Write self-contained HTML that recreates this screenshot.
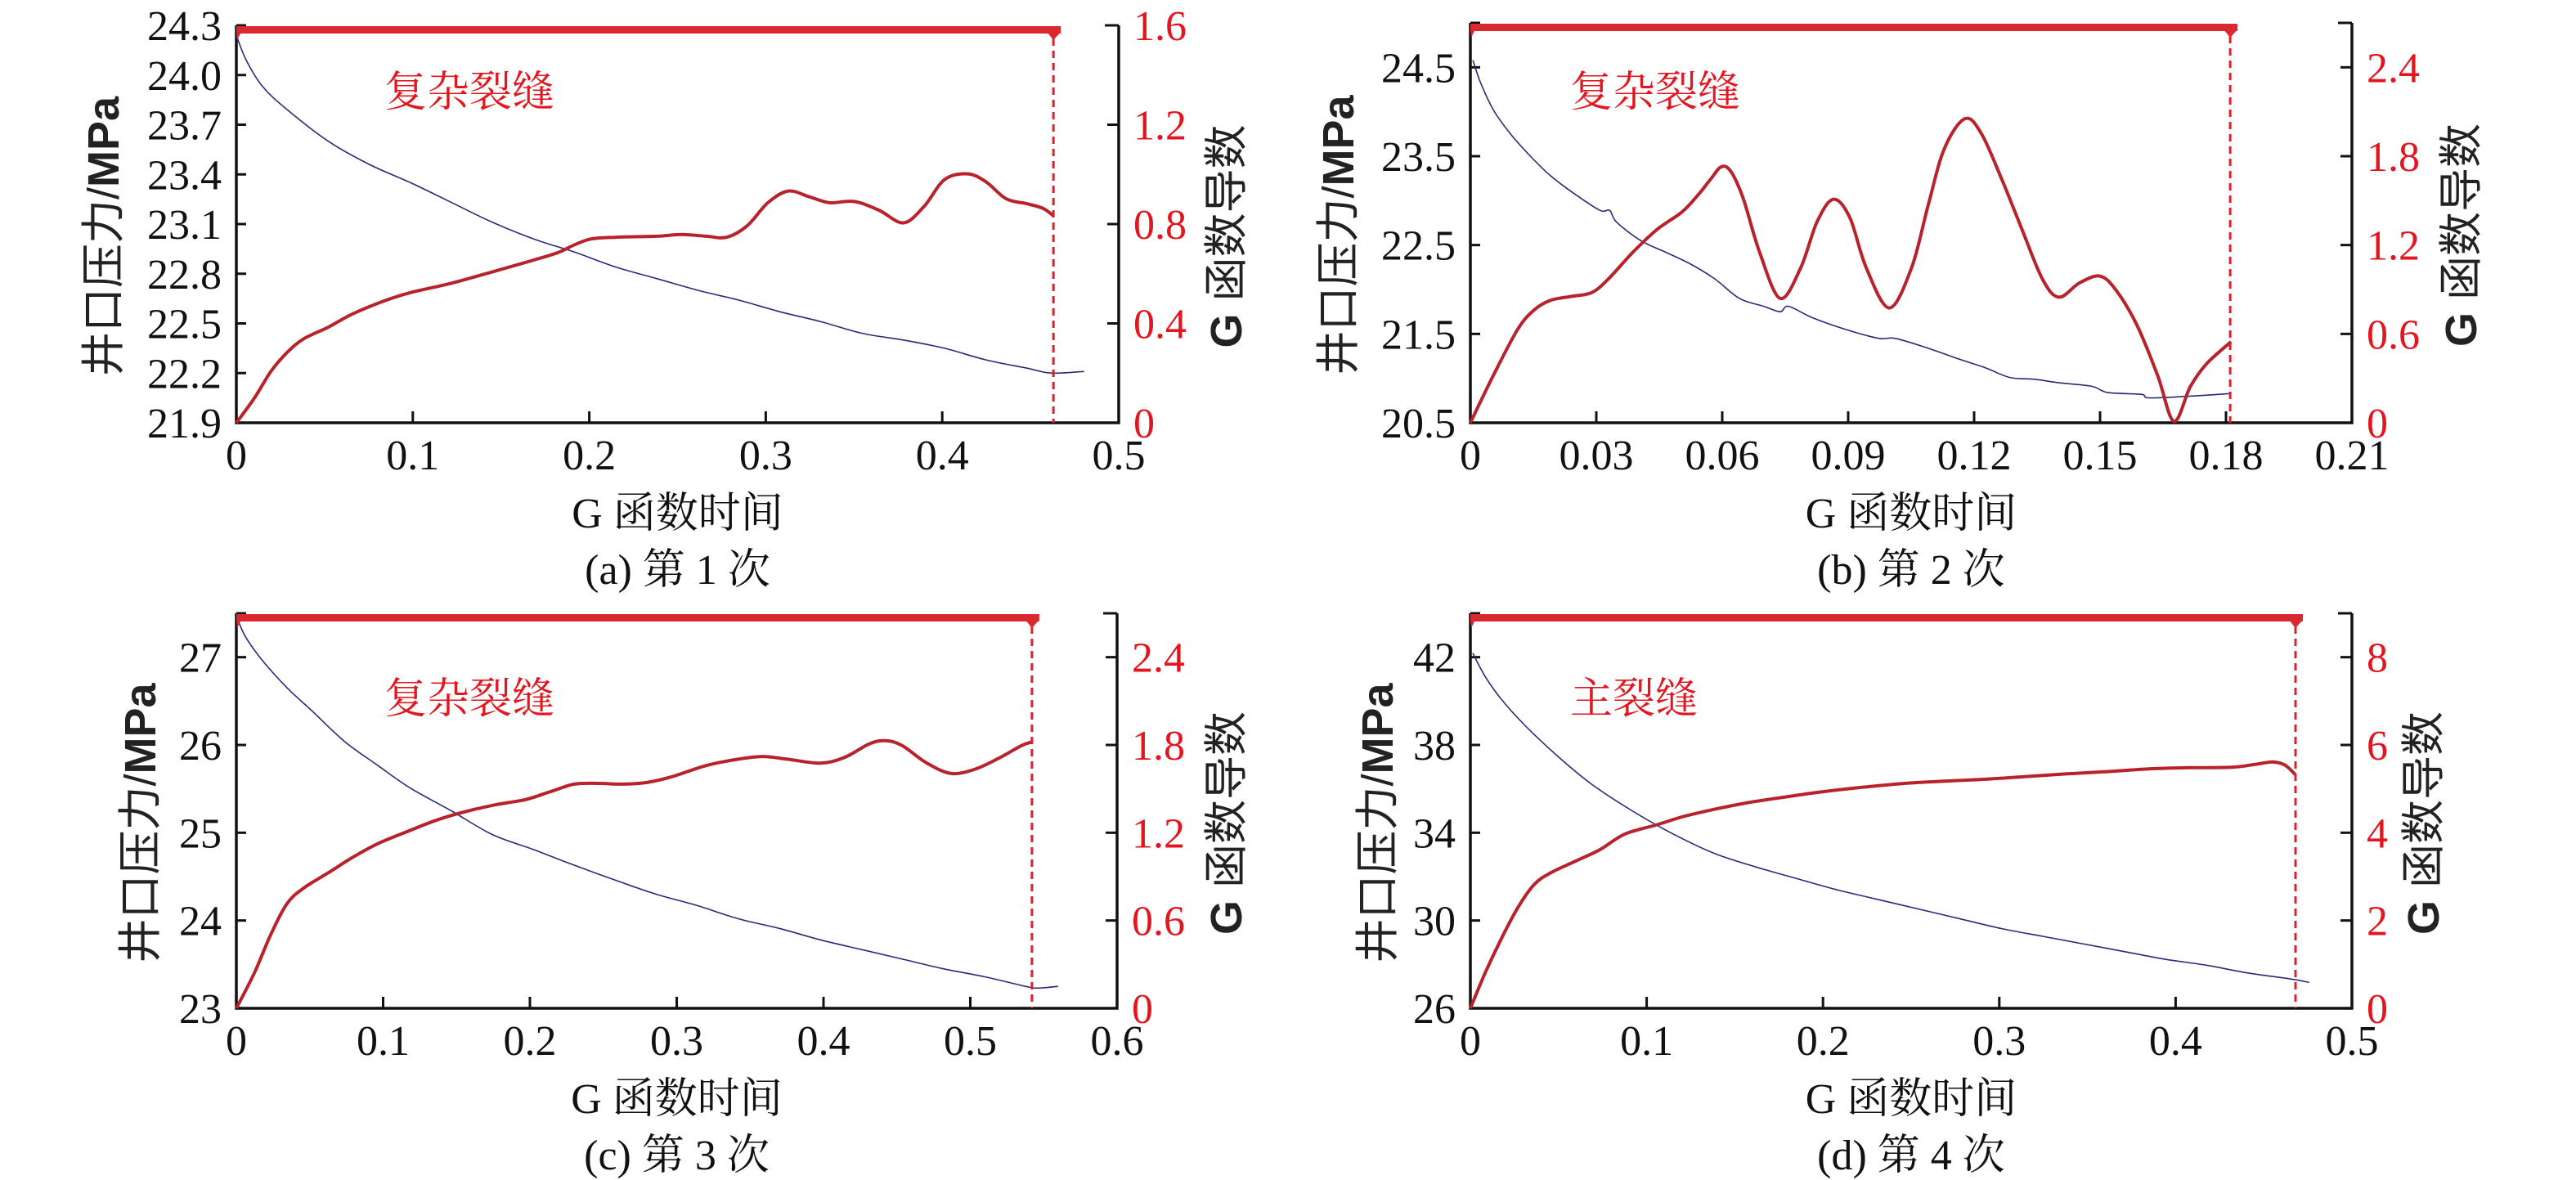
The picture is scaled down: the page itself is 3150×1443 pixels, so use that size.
<!DOCTYPE html>
<html><head><meta charset="utf-8">
<style>
html,body{margin:0;padding:0;background:#fff;}
svg{display:block;}
.tk{font-family:"Liberation Serif","Noto Serif CJK SC",serif;font-size:52px;}
.cj{font-family:"Liberation Serif","Noto Serif CJK SC",serif;font-size:52px;}
</style></head>
<body>
<svg id="fig" width="3150" height="1443" viewBox="0 0 3150 1443" xmlns="http://www.w3.org/2000/svg"></svg>
<script>
// ---- panel (a) data ----
const aPressG = [0,.0056,.0149,.0289,.0521,.0754,.0987,.1220,.1453,.1685,.1918,.2151,.2384,.2616,.2849,.3082,.3315,.3547,.3780,.4013,.4246,.4479,.4618,.4804];
const aPress = [24.24,24.09,23.93,23.79,23.60,23.46,23.35,23.23,23.11,23.01,22.93,22.84,22.77,22.70,22.64,22.57,22.51,22.44,22.40,22.35,22.28,22.23,22.20,22.21];
const aDerG = [0,.0102,.0196,.0289,.0382,.0521,.0661,.0847,.0987,.1220,.1453,.1685,.1825,.1918,.2011,.2151,.2384,.2523,.2663,.2779,.2896,.3012,.3128,.3245,.3361,.3501,.3641,.3780,.3897,.4013,.4143,.4246,.4362,.4479,.4572,.4632];
const aDer = [0,.099,.207,.284,.338,.385,.439,.493,.524,.562,.608,.655,.686,.717,.740,.747,.751,.758,.751,.747,.794,.886,.933,.910,.886,.891,.856,.805,.871,.979,1.002,.971,.902,.882,.863,.832];
const aLeftTicks = [21.9,22.2,22.5,22.8,23.1,23.4,23.7,24.0,24.3];
const aLeftLabels = ["21.9","22.2","22.5","22.8","23.1","23.4","23.7","24.0","24.3"];
const aRightTicks = [0,0.4,0.8,1.2,1.6];
const aRightLabels = ["0","0.4","0.8","1.2","1.6"];
const aXTicks = [0,0.1,0.2,0.3,0.4,0.5];
const aXLabels = ["0","0.1","0.2","0.3","0.4","0.5"];
const aClosure = [0.463];

// ---- panel (b) data ----
const bPressG = [.0006,.0025,.0055,.0094,.0143,.0191,.0250,.0309,.0332,.0348,.0406,.0465,.0523,.0582,.0641,.0699,.0738,.0758,.0816,.0894,.0973,.1012,.1090,.1168,.1226,.1285,.1344,.1402,.1480,.1519,.1598,.1617,.1715,.1812];
const bPress = [24.58,24.32,24.02,23.76,23.50,23.28,23.07,22.89,22.89,22.76,22.55,22.42,22.29,22.12,21.90,21.81,21.75,21.81,21.68,21.55,21.45,21.45,21.34,21.21,21.12,21.01,20.99,20.95,20.91,20.84,20.82,20.78,20.80,20.83];
const bDerG = [0,.0055,.0113,.0152,.0191,.0240,.0289,.0328,.0387,.0445,.0504,.0543,.0572,.0598,.0621,.0650,.0689,.0738,.0787,.0826,.0865,.0904,.0943,.0998,.1051,.1090,.1129,.1178,.1217,.1266,.1314,.1363,.1402,.1451,.1500,.1539,.1588,.1637,.1676,.1715,.1754,.1812];
const bDer = [0,.321,.632,.762,.827,.853,.879,.969,1.151,1.306,1.423,1.540,1.643,1.729,1.695,1.514,1.151,.840,1.047,1.358,1.509,1.384,1.047,.775,1.047,1.462,1.851,2.053,1.954,1.643,1.306,.969,.848,.944,.990,.892,.658,.321,.010,.244,.399,.547];
const bLeftTicks = [20.5,21.5,22.5,23.5,24.5];
const bLeftLabels = ["20.5","21.5","22.5","23.5","24.5"];
const bRightTicks = [0,0.6,1.2,1.8,2.4];
const bRightLabels = ["0","0.6","1.2","1.8","2.4"];
const bXTicks = [0,0.03,0.06,0.09,0.12,0.15,0.18,0.21];
const bXLabels = ["0","0.03","0.06","0.09","0.12","0.15","0.18","0.21"];
const bClosure = [0.181];

// ---- panel (c) data ----
const cPressG = [.0011,.0067,.0179,.0346,.0514,.0737,.0961,.1184,.1464,.1743,.2022,.2302,.2581,.2860,.3140,.3419,.3699,.3978,.4257,.4537,.4816,.5095,.5375,.5458,.5598];
const cPress = [27.42,27.22,26.96,26.65,26.39,26.04,25.77,25.51,25.25,24.98,24.81,24.63,24.46,24.30,24.17,24.02,23.91,23.78,23.67,23.56,23.45,23.36,23.25,23.23,23.25];
const cDerG = [0,.0123,.0235,.0346,.0458,.0626,.0793,.0961,.1184,.1352,.1520,.1743,.1967,.2134,.2302,.2469,.2637,.2805,.2972,.3196,.3419,.3587,.3754,.3978,.4146,.4313,.4425,.4537,.4704,.4872,.5039,.5207,.5347,.5419];
const cDer = [0,.242,.505,.716,.821,.926,1.032,1.124,1.216,1.282,1.334,1.387,1.426,1.479,1.532,1.537,1.532,1.545,1.584,1.658,1.703,1.721,1.703,1.676,1.716,1.808,1.829,1.795,1.676,1.605,1.637,1.716,1.795,1.821];
const cLeftTicks = [23,24,25,26,27];
const cLeftLabels = ["23","24","25","26","27"];
const cRightTicks = [0,0.6,1.2,1.8,2.4];
const cRightLabels = ["0","0.6","1.2","1.8","2.4"];
const cXTicks = [0,0.1,0.2,0.3,0.4,0.5,0.6];
const cXLabels = ["0","0.1","0.2","0.3","0.4","0.5","0.6"];
const cClosure = [0.542];

// ---- panel (d) data ----
const dPressG = [.0014,.0084,.0177,.0316,.0502,.0688,.0921,.1153,.1386,.1619,.1851,.2084,.2316,.2549,.2781,.3014,.3246,.3479,.3712,.3944,.4177,.4409,.4642,.4758];
const dPress = [42.18,41.12,40.07,38.84,37.44,36.21,34.98,33.93,33.05,32.44,31.91,31.39,30.95,30.51,30.07,29.63,29.28,28.93,28.58,28.23,27.96,27.61,27.35,27.18];
const dDerG = [0,.0084,.0177,.0270,.0363,.0456,.0595,.0735,.0874,.1060,.1200,.1386,.1572,.1758,.1991,.2223,.2456,.2688,.2921,.3153,.3386,.3619,.3851,.4084,.4316,.4456,.4549,.4619,.4679];
const dDer = [0,.807,1.596,2.298,2.825,3.088,3.351,3.614,3.965,4.184,4.360,4.535,4.684,4.798,4.930,5.035,5.123,5.175,5.219,5.281,5.342,5.395,5.456,5.482,5.491,5.561,5.614,5.544,5.325];
const dLeftTicks = [26,30,34,38,42];
const dLeftLabels = ["26","30","34","38","42"];
const dRightTicks = [0,2,4,6,8];
const dRightLabels = ["0","2","4","6","8"];
const dXTicks = [0,0.1,0.2,0.3,0.4,0.5];
const dXLabels = ["0","0.1","0.2","0.3","0.4","0.5"];
const dClosure = [0.468];

const NS = "http://www.w3.org/2000/svg";
const svg = document.getElementById('fig');
function mk(tag, attrs, parent){
  const e = document.createElementNS(NS, tag);
  for (const k in attrs) e.setAttribute(k, attrs[k]);
  (parent||svg).appendChild(e);
  return e;
}
function smooth(pts){
  let d = `M${pts[0][0].toFixed(1)},${pts[0][1].toFixed(1)}`;
  for (let i=0;i<pts.length-1;i++){
    const p0 = pts[Math.max(0,i-1)], p1 = pts[i], p2 = pts[i+1], p3 = pts[Math.min(pts.length-1,i+2)];
    const c1x = p1[0]+(p2[0]-p0[0])/6, c1y = p1[1]+(p2[1]-p0[1])/6;
    const c2x = p2[0]-(p3[0]-p1[0])/6, c2y = p2[1]-(p3[1]-p1[1])/6;
    d += ` C${c1x.toFixed(1)},${c1y.toFixed(1)} ${c2x.toFixed(1)},${c2y.toFixed(1)} ${p2[0].toFixed(1)},${p2[1].toFixed(1)}`;
  }
  return d;
}

function panel(cfg){
  const g = mk('g', {});
  
  
  const {x0,x1,y0,y1} = cfg;
  const sx = v => x0 + (v - cfg.xmin)/(cfg.xmax - cfg.xmin)*(x1-x0);
  const syL = v => y1 - (v - cfg.lmin)/(cfg.lmax - cfg.lmin)*(y1-y0);
  const syR = v => y1 - (v - 0)/(cfg.rmax)*(y1-y0);

  const ax = mk('path', {d:`M${x0},${y0} L${x0},${y1} L${x1},${y1} L${x1},${y0}`, fill:'none', stroke:'#111', 'stroke-width':3.5}, g);
  
  
  mk('line',{x1:x0,y1:y0,x2:x0+12,y2:y0,stroke:'#111','stroke-width':3},g);
  mk('line',{x1:x1-17,y1:y0,x2:x1,y2:y0,stroke:'#111','stroke-width':3},g);

  cfg.lt.forEach((v,i)=>{
    const y = syL(v);
    mk('line',{x1:x0,y1:y,x2:x0+12,y2:y,stroke:'#111','stroke-width':3},g);
    const t = mk('text',{x:x0-18,y:y+18,'text-anchor':'end',class:'tk',fill:'#111'},g);
    t.textContent = cfg.ll[i];
    
    
  });
  cfg.rt.forEach((v,i)=>{
    const y = syR(v);
    mk('line',{x1:x1-14,y1:y,x2:x1,y2:y,stroke:'#111','stroke-width':3},g);
    const t = mk('text',{x:x1+18,y:y+18,'text-anchor':'start',class:'tk',fill:'#e3161f'},g);
    t.textContent = cfg.rl[i];
    
    
  });
  cfg.xt.forEach((v,i)=>{
    const x = sx(v);
    if (i>0 && i<cfg.xt.length-1) mk('line',{x1:x,y1:y1,x2:x,y2:y1-14,stroke:'#111','stroke-width':3},g);
    const t = mk('text',{x:x,y:y1+57,'text-anchor':'middle',class:'tk',fill:'#111'},g);
    t.textContent = cfg.xl[i];
    
    
  });

  const pp = cfg.pg.map((v,i)=>[sx(v), syL(cfg.p[i])]);
  const pl = mk('path',{d:smooth(pp),fill:'none',stroke:'#2a2a78','stroke-width':1.6,'stroke-linejoin':'round'},g);
  
  

  const dp = cfg.dg.map((v,i)=>[sx(v), syR(cfg.d[i])]);
  const dl = mk('path',{d:smooth(dp),fill:'none',stroke:'#b8232b','stroke-width':4,'stroke-linejoin':'round'},g);
  
  

  const cx = sx(cfg.cl[0]);
  const dash = mk('line',{x1:cx,y1:y0+16,x2:cx,y2:y1,stroke:'#d9232b','stroke-width':3,'stroke-dasharray':'9,6'},g);
  
  
  const bar = mk('rect',{x:x0,y:y0+1,width:cx-x0+9,height:9,fill:'#d9282e'},g);
  
  
  mk('path',{d:`M${x0},${y0+8} L${x0+6},${y0+8} L${x0+1},${y0+18} Z`,fill:'#d9282e'},g);
  mk('path',{d:`M${cx-8},${y0+8} L${cx+9},${y0+8} L${cx},${y0+18} Z`,fill:'#d9282e'},g);

  const an = mk('text',{x:cfg.anx,y:cfg.any,class:'cj',fill:'#e3161f','font-size':56},g);
  an.textContent = cfg.an;
  
  

  const xt = mk('text',{x:(x0+x1)/2,y:y1+128,'text-anchor':'middle',class:'cj',fill:'#111'},g);
  xt.textContent = 'G 函数时间';
  
  
  const cap = mk('text',{x:(x0+x1)/2,y:y1+197,'text-anchor':'middle',class:'cj',fill:'#111'},g);
  cap.textContent = cfg.cap;
  
  

  const lty = (y0+y1)/2 + 15;
  const lt = mk('text',{x:0,y:0,'text-anchor':'middle',transform:`translate(${cfg.ltx},${lty}) rotate(-90)`,'font-family':'"Liberation Sans","Noto Sans CJK SC",sans-serif','font-size':54,fill:'#222'},g);
  lt.innerHTML = '井口压力/<tspan font-weight="bold">MPa</tspan>';
  
  
  const rt = mk('text',{x:0,y:0,'text-anchor':'middle',transform:`translate(${cfg.rtx},${lty}) rotate(-90)`,'font-family':'"Liberation Sans","Noto Sans CJK SC",sans-serif','font-size':54,fill:'#222'},g);
  rt.innerHTML = '<tspan font-weight="bold">G</tspan> 函数导数';
  
  
}

panel({id:'a',x0:289,x1:1368,y0:31,y1:517,xmin:0,xmax:0.5,lmin:21.9,lmax:24.3,rmax:1.6,
  lt:aLeftTicks,ll:aLeftLabels,rt:aRightTicks,rl:aRightLabels,xt:aXTicks,xl:aXLabels,
  pg:aPressG,p:aPress,dg:aDerG,d:aDer,cl:aClosure,an:'复杂裂缝',anx:470,any:130,cap:'(a) 第 1 次',ltx:145,rtx:1518});
panel({id:'b',x0:1798,x1:2876,y0:28,y1:517,xmin:0,xmax:0.21,lmin:20.5,lmax:25.0,rmax:2.7,
  lt:bLeftTicks,ll:bLeftLabels,rt:bRightTicks,rl:bRightLabels,xt:bXTicks,xl:bXLabels,
  pg:bPressG,p:bPress,dg:bDerG,d:bDer,cl:bClosure,an:'复杂裂缝',anx:1920,any:130,cap:'(b) 第 2 次',ltx:1655,rtx:3028});
panel({id:'c',x0:289,x1:1366,y0:750,y1:1233,xmin:0,xmax:0.6,lmin:23,lmax:27.5,rmax:2.7,
  lt:cLeftTicks,ll:cLeftLabels,rt:cRightTicks,rl:cRightLabels,xt:cXTicks,xl:cXLabels,
  pg:cPressG,p:cPress,dg:cDerG,d:cDer,cl:cClosure,an:'复杂裂缝',anx:470,any:872,cap:'(c) 第 3 次',ltx:190,rtx:1518});
panel({id:'d',x0:1798,x1:2876,y0:750,y1:1233,xmin:0,xmax:0.5,lmin:26,lmax:44,rmax:9,
  lt:dLeftTicks,ll:dLeftLabels,rt:dRightTicks,rl:dRightLabels,xt:dXTicks,xl:dXLabels,
  pg:dPressG,p:dPress,dg:dDerG,d:dDer,cl:dClosure,an:'主裂缝',anx:1920,any:872,cap:'(d) 第 4 次',ltx:1703,rtx:2982});
</script>
</body></html>
